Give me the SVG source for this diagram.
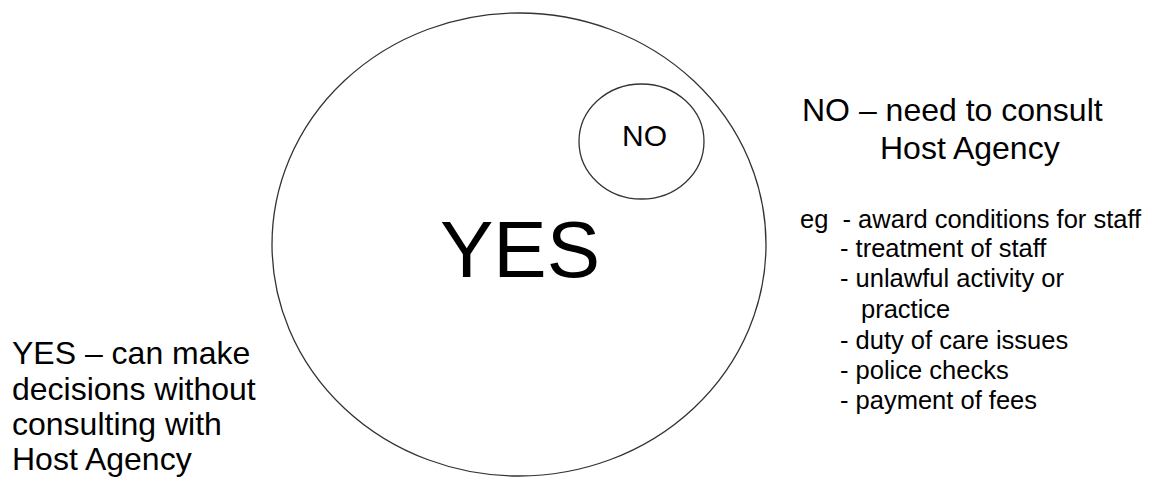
<svg xmlns="http://www.w3.org/2000/svg" width="1152" height="489" viewBox="0 0 1152 489">
<style>
.shape{fill:none;stroke:#333;stroke-width:1.3}
.t{font-family:"Liberation Sans",Arial,sans-serif;fill:#000;white-space:pre}
.list{font-size:25.5px}
.left{font-size:32px}
</style>
<rect width="1152" height="489" fill="#fff"/>
<g id="yes-node">
<ellipse class="shape" cx="519" cy="244.5" rx="247" ry="231.5"/>
<text class="t" x="440" y="277" font-size="80">YES</text>
</g>
<g id="no-node">
<ellipse class="shape" cx="641.5" cy="141.5" rx="62.5" ry="57.5"/>
<text class="t" x="622" y="146" font-size="30">NO</text>
</g>
<g id="connectors"></g>
<g id="no-label">
<text class="t" x="802" y="121" font-size="32">NO – need to consult</text>
<text class="t" x="880" y="159" font-size="32">Host Agency</text>
</g>
<g id="examples">
<text class="t list" x="800" y="228" xml:space="preserve">eg  - award conditions for staff</text>
<text class="t list" x="840" y="257">- treatment of staff</text>
<text class="t list" x="840" y="287">- unlawful activity or</text>
<text class="t list" x="861" y="318">practice</text>
<text class="t list" x="840" y="349">- duty of care issues</text>
<text class="t list" x="840" y="379">- police checks</text>
<text class="t list" x="840" y="409">- payment of fees</text>
</g>
<g id="yes-label">
<text class="t left" x="12" y="364">YES – can make</text>
<text class="t left" x="12" y="400">decisions without</text>
<text class="t left" x="12" y="435">consulting with</text>
<text class="t left" x="12" y="470">Host Agency</text>
</g>
</svg>
